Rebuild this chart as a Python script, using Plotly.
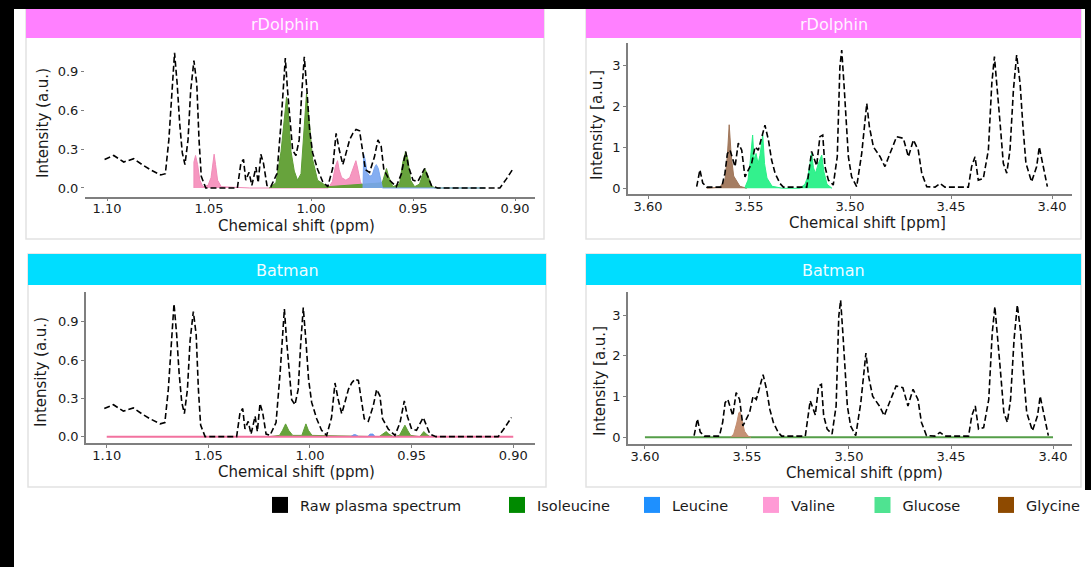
import plotly.graph_objects as go

W, H = 1091, 567

# ---------------- DATA ----------------
# Raw plasma spectrum, aliphatic region (ppm, a.u.)
raw_ali_ppm = [1.1012, 1.0967, 1.0918, 1.0869, 1.0828, 1.0787, 1.0737, 1.0714, 1.0697, 1.0681,
               1.0669, 1.0656, 1.0644, 1.0631, 1.0618, 1.0603, 1.0590, 1.0574, 1.0560, 1.0549,
               1.0538, 1.0516, 1.0361, 1.0344, 1.0331, 1.0320, 1.0304, 1.0290, 1.0270, 1.0259,
               1.0246, 1.0233, 1.0216, 1.0197, 1.0167, 1.0147, 1.0136, 1.0126, 1.0115, 1.0102,
               1.0090, 1.0074, 1.0058, 1.0046, 1.0033, 1.0020, 1.0007, 0.9992, 0.9967, 0.9943,
               0.9918, 0.9894, 0.9877, 0.9861, 0.9844, 0.9828, 0.9811, 0.9795, 0.9779, 0.9762,
               0.9749, 0.9733, 0.9713, 0.9689, 0.9672, 0.9656, 0.9643, 0.9615, 0.9582, 0.9557,
               0.9536, 0.9521, 0.9500, 0.9476, 0.9443, 0.9410, 0.9380, 0.9074, 0.9042, 0.9009]
raw_ali_int = [0.22, 0.25, 0.20, 0.225, 0.18, 0.14, 0.10, 0.11, 0.37, 0.75,
               1.04, 0.80, 0.50, 0.27, 0.18, 0.37, 0.75, 0.98, 0.80, 0.37,
               0.09, 0.0, 0.0, 0.19, 0.22, 0.06, 0.12, 0.02, 0.16, 0.04,
               0.26, 0.19, 0.02, 0.01, 0.11, 0.50, 0.80, 1.00, 0.75, 0.47,
               0.29, 0.25, 0.37, 0.72, 1.01, 0.75, 0.45, 0.27, 0.14, 0.05,
               0.01, 0.15, 0.42, 0.29, 0.18, 0.27, 0.37, 0.42, 0.45, 0.44,
               0.31, 0.14, 0.12, 0.24, 0.37, 0.32, 0.14, 0.06, 0.01, 0.11,
               0.28, 0.16, 0.06, 0.05, 0.15, 0.02, 0.0, 0.0, 0.07, 0.15]

# Raw plasma spectrum, glucose/glycine region
raw_sug_ppm = [3.5759, 3.5743, 3.5729, 3.5709, 3.5635, 3.5619, 3.5607, 3.5594, 3.5569, 3.5553,
               3.5536, 3.5520, 3.5487, 3.5470, 3.5454, 3.5437, 3.5421, 3.5404, 3.5388, 3.5371,
               3.5347, 3.5330, 3.5214, 3.5190, 3.5165, 3.5149, 3.5135, 3.5124, 3.5107, 3.5083,
               3.5063, 3.5050, 3.5041, 3.5030, 3.5020, 3.5008, 3.4992, 3.4967, 3.4942, 3.4917,
               3.4904, 3.4884, 3.4851, 3.4827, 3.4802, 3.4769, 3.4736, 3.4711, 3.4686, 3.4662,
               3.4645, 3.4620, 3.4579, 3.4554, 3.4530, 3.4414, 3.4398, 3.4381, 3.4365, 3.4340,
               3.4315, 3.4298, 3.4285, 3.4271, 3.4257, 3.4241, 3.4224, 3.4208, 3.4191, 3.4175,
               3.4158, 3.4145, 3.4129, 3.4101, 3.4076, 3.4063, 3.4043, 3.4023]
raw_sug_int = [0.04, 0.45, 0.13, 0.03, 0.03, 0.37, 0.85, 0.93, 0.53, 1.10,
               0.93, 0.28, 0.61, 1.01, 0.93, 1.26, 1.54, 1.18, 0.69, 0.37,
               0.12, 0.03, 0.03, 0.90, 0.55, 1.26, 1.30, 0.53, 0.20, 0.08,
               0.77, 2.97, 3.37, 2.56, 1.59, 0.77, 0.28, 0.04, 0.85, 2.07,
               1.50, 1.01, 0.77, 0.53, 0.85, 1.26, 1.22, 0.77, 1.18, 0.93,
               0.37, 0.04, 0.03, 0.12, 0.03, 0.03, 0.53, 0.77, 0.20, 0.24,
               0.93, 2.56, 3.21, 2.48, 1.59, 0.61, 0.37, 0.93, 2.40, 3.25,
               2.56, 1.59, 0.61, 0.16, 0.53, 1.01, 0.53, 0.04]

# rDolphin fits, aliphatic region
rd_val_ppm = [1.0574, 1.0574, 1.0566, 1.0556, 1.0545, 1.0530, 1.0505, 1.0490, 1.0480, 1.0475,
              1.0468, 1.0458, 1.0440, 1.0300, 0.9930, 0.9915, 0.9895, 0.9880, 0.9870, 0.9862,
              0.9850, 0.9829, 0.9810, 0.9795, 0.9780, 0.9770, 0.9758, 0.9745]
rd_val_int = [0.0, 0.20, 0.25, 0.18, 0.06, 0.01, 0.02, 0.08, 0.20, 0.26,
              0.18, 0.06, 0.01, 0.0, 0.0, 0.0, 0.05, 0.17, 0.21, 0.14,
              0.08, 0.06, 0.08, 0.15, 0.21, 0.14, 0.05, 0.0]
rd_ile_ppm = [1.0205, 1.0172, 1.0147, 1.0131, 1.0120, 1.0112, 1.0098, 1.0082, 1.0066, 1.0049,
              1.0033, 1.0022, 1.0008, 0.9992, 0.9968, 0.9918, 0.9651, 0.9640, 0.9630, 0.9620,
              0.9599, 0.9566, 0.9550, 0.9536, 0.9525, 0.9512, 0.9492, 0.9468, 0.9451, 0.9443,
              0.9430, 0.9410, 0.9394, 0.9148]
rd_ile_int = [0.0, 0.04, 0.28, 0.53, 0.70, 0.60, 0.28, 0.13, 0.06, 0.11,
              0.50, 0.73, 0.50, 0.22, 0.06, 0.01, 0.04, 0.11, 0.15, 0.09,
              0.01, 0.03, 0.20, 0.28, 0.22, 0.06, 0.01, 0.03, 0.11, 0.15,
              0.11, 0.02, 0.0, 0.0]
rd_leu_ppm = [0.9745, 0.9742, 0.9735, 0.9725, 0.9712, 0.9700, 0.9688, 0.9680, 0.9670, 0.9658,
              0.9650, 0.9150]
rd_leu_int = [0.0, 0.26, 0.22, 0.12, 0.09, 0.10, 0.16, 0.18, 0.15, 0.06,
              0.0, 0.0]

# Batman fits, aliphatic region
bt_val_ppm = [1.1000, 0.9000]
bt_val_int = [0.0, 0.0]
bt_ile_ppm = [1.0200, 1.0150, 1.0135, 1.0120, 1.0105, 1.0085, 1.0040, 1.0030, 1.0020, 1.0008,
              0.9990, 0.9660, 0.9640, 0.9625, 0.9612, 0.9590, 0.9560, 0.9545, 0.9533, 0.9520,
              0.9505, 0.9460, 0.9450, 0.9440, 0.9428, 0.9410]
bt_ile_int = [0.0, 0.01, 0.05, 0.10, 0.05, 0.01, 0.01, 0.05, 0.10, 0.05,
              0.01, 0.0, 0.02, 0.04, 0.02, 0.0, 0.01, 0.05, 0.09, 0.05,
              0.01, 0.0, 0.02, 0.04, 0.02, 0.0]
bt_leu_ppm = [0.9800, 0.9785, 0.9775, 0.9760, 0.9715, 0.9705, 0.9690, 0.9680]
bt_leu_int = [0.0, 0.015, 0.015, 0.0, 0.0, 0.02, 0.02, 0.0]

# rDolphin fits, glucose/glycine region
rd_gly_ppm = [3.5709, 3.5644, 3.5619, 3.5607, 3.5598, 3.5588, 3.5576, 3.5545, 3.5511]
rd_gly_int = [0.0, 0.03, 0.20, 0.80, 1.55, 0.80, 0.30, 0.05, 0.0]
rd_glc_ppm = [3.5520, 3.5505, 3.5495, 3.5482, 3.5475, 3.5465, 3.5455, 3.5446, 3.5432, 3.5423,
              3.5411, 3.5386, 3.5332, 3.5248, 3.5223, 3.5208, 3.5190, 3.5181, 3.5171, 3.5157,
              3.5140, 3.5129, 3.5114, 3.5089]
rd_glc_int = [0.02, 0.20, 0.60, 1.30, 0.70, 0.85, 0.60, 0.80, 1.30, 0.60,
              0.25, 0.05, 0.0, 0.0, 0.10, 0.30, 0.85, 0.50, 0.37, 0.60,
              0.81, 0.40, 0.10, 0.0]

# Batman fits, glucose/glycine region
bt_glc_ppm = [3.6000, 3.4000]
bt_glc_int = [0.0, 0.0]
bt_gly_ppm = [3.5580, 3.5565, 3.5550, 3.5540, 3.5534, 3.5525, 3.5512, 3.5495, 3.5480]
bt_gly_int = [0.0, 0.08, 0.35, 0.60, 0.63, 0.45, 0.15, 0.03, 0.0]

ali_ticks = [1.10, 1.05, 1.00, 0.95, 0.90]
ali_ticktext = ["1.10", "1.05", "1.00", "0.95", "0.90"]
sug_ticks = [3.60, 3.55, 3.50, 3.45, 3.40]
sug_ticktext = ["3.60", "3.55", "3.50", "3.45", "3.40"]
ali_yticks = [0.0, 0.3, 0.6, 0.9]
ali_yticktext = ["0.0", "0.3", "0.6", "0.9"]
sug_yticks = [0, 1, 2, 3]
sug_yticktext = ["0", "1", "2", "3"]

legend_names = ["Raw plasma spectrum", "Isoleucine", "Leucine", "Valine", "Glucose", "Glycine"]
legend_colors = ["#000000", "#008A00", "#1E90FF", "#FF9AD5", "#4FE391", "#8E4A00"]

# ---------------- FIGURE ----------------
FONT = "DejaVu Sans, Verdana, sans-serif"


def fx(px):
    return px / W


def fy(py):
    return 1 - py / H


fig = go.Figure()

RAW_LINE = dict(color="black", width=1.6, dash="6px,3px")


def fill_trace(x, y, color, line_color, ax):
    return go.Scatter(x=x, y=y, mode="lines", fill="tozeroy", fillcolor=color,
                      line=dict(color=line_color, width=1), showlegend=False,
                      xaxis="x" + ax, yaxis="y" + ax, hoverinfo="skip")


# panel 1 (top-left): rDolphin aliphatic
fig.add_trace(fill_trace(rd_val_ppm, rd_val_int, "rgba(245,140,185,0.9)", "#F08CB8", "1"))
fig.add_trace(fill_trace(rd_ile_ppm, rd_ile_int, "rgba(95,158,50,0.95)", "#5E9E34", "1"))
fig.add_trace(fill_trace(rd_leu_ppm, rd_leu_int, "rgba(120,165,240,0.9)", "#78A5F0", "1"))
fig.add_trace(go.Scatter(x=raw_ali_ppm, y=raw_ali_int, mode="lines", line=RAW_LINE,
                         showlegend=False, xaxis="x1", yaxis="y1"))

# panel 2 (top-right): rDolphin glucose/glycine
fig.add_trace(fill_trace(rd_gly_ppm, rd_gly_int, "rgba(160,118,90,0.95)", "#A0765A", "2"))
fig.add_trace(fill_trace(rd_glc_ppm, rd_glc_int, "rgba(40,240,135,0.95)", "#28F087", "2"))
fig.add_trace(go.Scatter(x=raw_sug_ppm, y=raw_sug_int, mode="lines", line=RAW_LINE,
                         showlegend=False, xaxis="x2", yaxis="y2"))

# panel 3 (bottom-left): Batman aliphatic
fig.add_trace(fill_trace(bt_ile_ppm, bt_ile_int, "rgba(95,158,50,0.95)", "#5E9E34", "3"))
fig.add_trace(fill_trace(bt_leu_ppm, bt_leu_int, "rgba(100,150,240,0.95)", "#6496F0", "3"))
fig.add_trace(go.Scatter(x=bt_val_ppm, y=bt_val_int, mode="lines",
                         line=dict(color="#F2729F", width=2), showlegend=False,
                         xaxis="x3", yaxis="y3"))
fig.add_trace(go.Scatter(x=raw_ali_ppm, y=raw_ali_int, mode="lines", line=RAW_LINE,
                         showlegend=False, xaxis="x3", yaxis="y3"))

# panel 4 (bottom-right): Batman glucose/glycine
fig.add_trace(go.Scatter(x=bt_glc_ppm, y=bt_glc_int, mode="lines",
                         line=dict(color="#559E48", width=2), showlegend=False,
                         xaxis="x4", yaxis="y4"))
fig.add_trace(fill_trace(bt_gly_ppm, bt_gly_int, "rgba(195,140,110,0.95)", "#C38C6E", "4"))
fig.add_trace(go.Scatter(x=raw_sug_ppm, y=raw_sug_int, mode="lines", line=RAW_LINE,
                         showlegend=False, xaxis="x4", yaxis="y4"))

# legend entries: one small legend per entry, placed where the reference has them
legend_square_px = [279.0, 516.0, 651.0, 770.0, 881.5, 1005.0]
ITEMW = 30
legend_font = dict(family=FONT, size=14.5, color="#1A1A1A")
legend_layouts = {}
for i, (name, col) in enumerate(zip(legend_names, legend_colors)):
    lname = "legend" if i == 0 else "legend%d" % (i + 1)
    fig.add_trace(go.Scatter(x=[None], y=[None], mode="markers", name=name,
                             marker=dict(symbol="square", size=16, color=col,
                                         line=dict(width=0)),
                             legend=lname, xaxis="x1", yaxis="y1"))
    center_off = (ITEMW + 10) / 2.0
    legend_layouts[lname] = dict(orientation="h", x=fx(legend_square_px[i] - center_off + 1),
                                 y=fy(505), xanchor="left", yanchor="middle",
                                 font=legend_font, bgcolor="rgba(0,0,0,0)",
                                 itemwidth=ITEMW, borderwidth=0)

axis_common = dict(showgrid=False, zeroline=False, ticks="outside", ticklen=3,
                   tickcolor="#7F7F7F", tickwidth=1, showline=True, linecolor="#7F7F7F",
                   linewidth=1.5, tickfont=dict(family=FONT, size=13, color="#1A1A1A"),
                   fixedrange=True)

panels = {
    "1": dict(xd=(85, 535), yd=(41, 196.7), xr=(1.1108, 0.8902), yr=(-0.067, 1.131),
              xt=(ali_ticks, ali_ticktext), yt=(ali_yticks, ali_yticktext), yline=False),
    "2": dict(xd=(628, 1072), yd=(43, 194.3), xr=(3.6099, 3.3901), yr=(-0.146, 3.544),
              xt=(sug_ticks, sug_ticktext), yt=(sug_yticks, sug_yticktext), yline=True),
    "3": dict(xd=(86, 535), yd=(291.7, 443.3), xr=(1.1102, 0.8893), yr=(-0.052, 1.135),
              xt=(ali_ticks, ali_ticktext), yt=(ali_yticks, ali_yticktext), yline=True),
    "4": dict(xd=(628, 1072), yd=(291.7, 444.3), xr=(3.6083, 3.3907), yr=(-0.172, 3.577),
              xt=(sug_ticks, sug_ticktext), yt=(sug_yticks, sug_yticktext), yline=True),
}
for k, p in panels.items():
    xa = dict(axis_common)
    xa.update(domain=[fx(p["xd"][0]), fx(p["xd"][1])], range=list(p["xr"]),
              tickvals=p["xt"][0], ticktext=p["xt"][1], anchor="y" + k,
              ticklabelstandoff=-4)
    ya = dict(axis_common)
    ya.update(domain=[fy(p["yd"][1]), fy(p["yd"][0])], range=list(p["yr"]),
              tickvals=p["yt"][0], ticktext=p["yt"][1], anchor="x" + k,
              showline=p["yline"])
    fig.layout["xaxis" + ("" if k == "1" else k)] = xa
    fig.layout["yaxis" + ("" if k == "1" else k)] = ya

shapes = []
# panel frames and strips
frames = [(26, 544, 9, 38, 239, "#FF80FF"), (586, 1081, 9, 38, 239, "#FF80FF"),
          (28, 546, 254, 285, 487, "#00DDFF"), (586, 1081, 254, 285, 487, "#00DDFF")]
for x0, x1, s0, s1, b, col in frames:
    shapes.append(dict(type="rect", xref="paper", yref="paper", x0=fx(x0), x1=fx(x1),
                       y0=fy(b), y1=fy(s0), line=dict(color="#E2E2E2", width=1.5),
                       fillcolor="rgba(0,0,0,0)", layer="below"))
    shapes.append(dict(type="rect", xref="paper", yref="paper", x0=fx(x0), x1=fx(x1),
                       y0=fy(s1), y1=fy(s0), line=dict(width=0), fillcolor=col,
                       layer="below"))
# black margins of the screenshot
shapes.append(dict(type="rect", xref="paper", yref="paper", x0=0, x1=1, y0=fy(9), y1=1,
                   line=dict(width=0), fillcolor="black"))
shapes.append(dict(type="rect", xref="paper", yref="paper", x0=0, x1=fx(14), y0=0, y1=1,
                   line=dict(width=0), fillcolor="black"))
shapes.append(dict(type="rect", xref="paper", yref="paper", x0=fx(1085), x1=1, y0=fy(490),
                   y1=1, line=dict(width=0), fillcolor="black"))

annotations = []


def ann(text, px, py, size=15, color="#1A1A1A", angle=0):
    annotations.append(dict(text=text, x=fx(px), y=fy(py), xref="paper", yref="paper",
                            showarrow=False, xanchor="center", yanchor="middle",
                            textangle=angle, font=dict(family=FONT, size=size, color=color)))


ann("rDolphin", 285, 24, 16, "#FFF4FF")
ann("rDolphin", 833.5, 24, 16, "#FFF4FF")
ann("Batman", 287, 270, 16, "#F0FCFF")
ann("Batman", 833.5, 270, 16, "#F0FCFF")
ann("Chemical shift (ppm)", 296, 226)
ann("Chemical shift [ppm]", 867, 223)
ann("Chemical shift (ppm)", 296, 472)
ann("Chemical shift (ppm)", 864, 473)
ann("Intensity (a.u.)", 43, 123, angle=-90)
ann("Intensity [a.u.]", 597, 125, angle=-90)
ann("Intensity (a.u.)", 41, 372, angle=-90)
ann("Intensity [a.u.]", 600, 381, angle=-90)

fig.update_layout(
    width=W, height=H, margin=dict(l=0, r=0, t=0, b=0, autoexpand=False),
    paper_bgcolor="white", plot_bgcolor="rgba(0,0,0,0)",
    shapes=shapes, annotations=annotations,
    **legend_layouts,
)

fig.write_html("out.html", post_script="document.body.style.margin='0px';",
               config={"displayModeBar": False})
